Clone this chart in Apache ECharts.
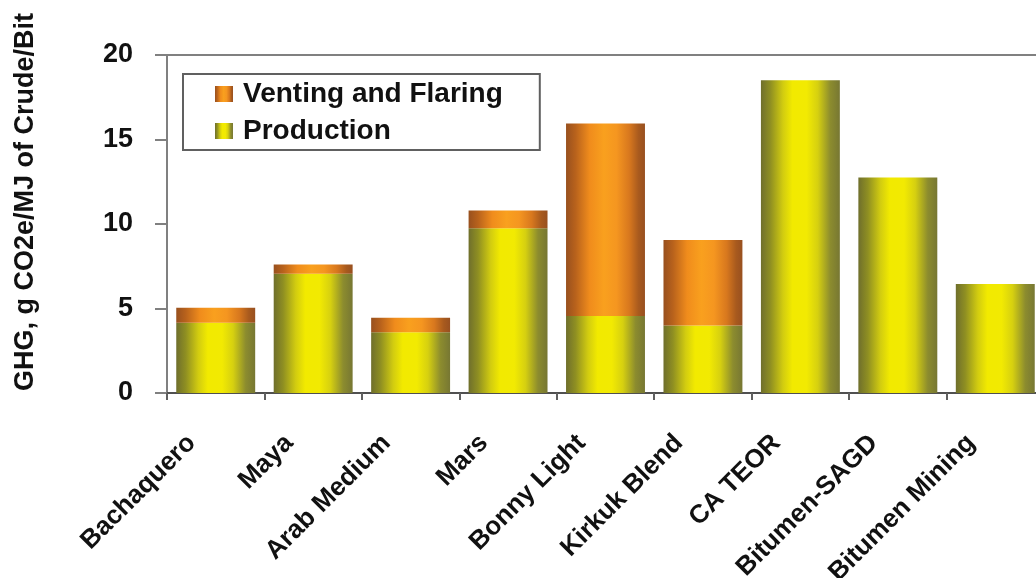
<!DOCTYPE html>
<html>
<head>
<meta charset="utf-8">
<script src="https://cdn.jsdelivr.net/npm/echarts@6/dist/echarts.min.js"></script>
<style>
  html, body { margin: 0; padding: 0; background: #ffffff; }
  #chart { width: 1036px; height: 578px; }
</style>
</head>
<body>
<div id="chart"></div>
<script>
// Crude sources along the x axis
const categories = ['Bachaquero', 'Maya', 'Arab Medium', 'Mars', 'Bonny Light',
                    'Kirkuk Blend', 'CA TEOR', 'Bitumen-SAGD', 'Bitumen Mining'];
// GHG, g CO2e/MJ — production emissions (bottom of stack)
const production = [4.15, 7.05, 3.6, 9.75, 4.55, 4.0, 18.5, 12.75, 6.45];
// GHG, g CO2e/MJ — venting and flaring (top of stack)
const ventingFlaring = [0.9, 0.55, 0.85, 1.05, 11.4, 5.05, 0, 0, 0];
// y axis ticks
const yTicks = [0, 5, 10, 15, 20];

const FONT = '"Liberation Sans", Arial, sans-serif';

function hGrad(stops) {
  return {
    type: 'linear', x: 0, y: 0, x2: 1, y2: 0,
    colorStops: stops.map(s => ({ offset: s[0], color: s[1] }))
  };
}

const prodFill = hGrad([
  [0, '#6f6f2c'], [0.12, '#8f8f22'], [0.28, '#d2cc10'], [0.4, '#f2ea00'],
  [0.58, '#f2ea02'], [0.72, '#d6d010'], [0.88, '#8c8c2e'], [1, '#777733']
]);
const ventFill = hGrad([
  [0, '#98501e'], [0.12, '#b8621c'], [0.3, '#f08c1c'], [0.48, '#f9a01e'],
  [0.64, '#f59620'], [0.8, '#d8781e'], [0.92, '#a85a1e'], [1, '#985020']
]);

const chart = echarts.init(document.getElementById('chart'), null, { renderer: 'canvas' });

chart.setOption({
  animation: false,
  backgroundColor: '#ffffff',
  textStyle: { fontFamily: FONT },
  grid: {
    left: 167, top: 55, width: 877, bottom: 185,
    containLabel: false, outerBoundsMode: 'none'
  },
  legend: {
    data: ['Venting and Flaring', 'Production'],
    orient: 'vertical',
    left: 183, top: 74,
    itemWidth: 18, itemHeight: 16, itemGap: 9,
    padding: [6, 37, 5, 32],
    borderColor: '#606060', borderWidth: 2,
    icon: 'rect',
    textStyle: { fontFamily: FONT, fontWeight: 'bold', fontSize: 28, color: '#111111', padding: [0, 0, 0, 5] },
    selectedMode: false
  },
  xAxis: [{
    type: 'category',
    data: categories,
    boundaryGap: true,
    axisLine: { lineStyle: { color: '#505050', width: 2 } },
    axisTick: { show: true, alignWithLabel: false, length: 7, lineStyle: { color: '#606060', width: 2 } },
    axisLabel: {
      interval: 0, rotate: 45, margin: 22,
      padding: [0, 34, 0, 0],
      fontFamily: FONT, fontWeight: 'bold', fontSize: 26, color: '#111111'
    },
    splitLine: { show: false }
  }, {
    // plot-area top border
    type: 'category',
    data: categories,
    position: 'top',
    axisLine: { lineStyle: { color: '#808080', width: 2 } },
    axisTick: { show: false },
    axisLabel: { show: false }
  }],
  yAxis: {
    type: 'value',
    min: yTicks[0], max: yTicks[yTicks.length - 1], interval: 5,
    name: 'GHG, g CO2e/MJ of Crude/Bit',
    nameLocation: 'middle',
    nameGap: 128,
    nameTextStyle: { fontFamily: FONT, fontWeight: 'bold', fontSize: 27, color: '#111111', padding: [0, 0, 0, 44] },
    axisLine: { show: true, lineStyle: { color: '#808080', width: 2 } },
    axisTick: { show: true, length: 12, lineStyle: { color: '#808080', width: 2 } },
    axisLabel: { margin: 34, fontFamily: FONT, fontWeight: 'bold', fontSize: 27, color: '#111111' },
    splitLine: { show: false }
  },
  series: [{
    name: 'Production',
    type: 'bar',
    stack: 'ghg',
    data: production,
    barCategoryGap: '19%',
    itemStyle: { color: prodFill },
    z: 2
  }, {
    name: 'Venting and Flaring',
    type: 'bar',
    stack: 'ghg',
    data: ventingFlaring,
    itemStyle: { color: ventFill },
    z: 2
  }]
});
</script>
</body>
</html>
